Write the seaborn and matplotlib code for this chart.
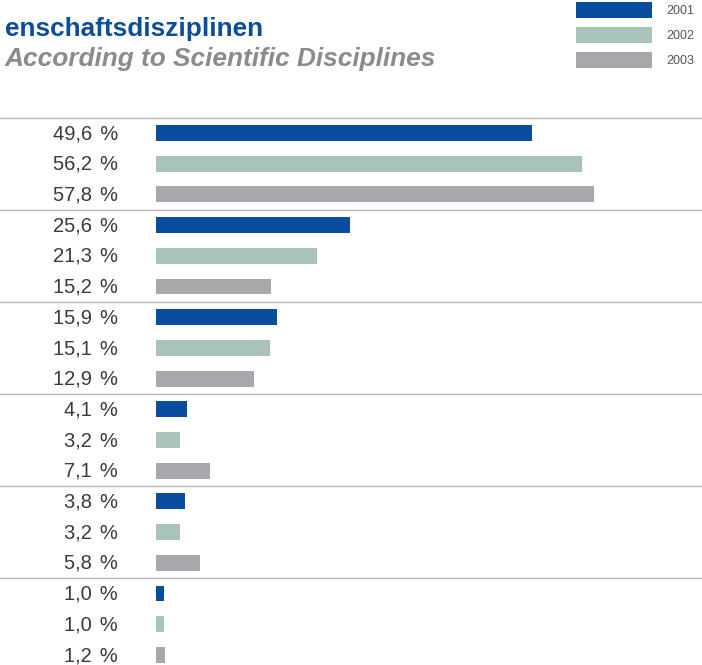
import matplotlib
matplotlib.use("Agg")
import matplotlib.pyplot as plt
from matplotlib.patches import Rectangle
import seaborn as sns
import pandas as pd

years = ["2001", "2002", "2003"]
values_2001 = [49.6, 25.6, 15.9, 4.1, 3.8, 1.0]
values_2002 = [56.2, 21.3, 15.1, 3.2, 3.2, 1.0]
values_2003 = [57.8, 15.2, 12.9, 7.1, 5.8, 1.2]
colors = ["#0a4d9f", "#a9c3b9", "#a8a8ac"]
title_de = "enschaftsdisziplinen"
title_en = "According to Scientific Disciplines"

sns.set_theme(style="white")
plt.rcParams["font.family"] = ["Liberation Sans", "DejaVu Sans"]

rows = []
for g in range(len(values_2001)):
    for k, vals in enumerate([values_2001, values_2002, values_2003]):
        rows.append({"pos": g * 3 + k, "value": vals[g], "year": years[k]})
df = pd.DataFrame(rows)

W, H = 702, 665
fig = plt.figure(figsize=(W / 100, H / 100), dpi=100)
ax = fig.add_axes([0, 0, 1, 1])

sns.barplot(data=df, x="value", y="pos", hue="year", orient="h",
            native_scale=True, dodge=False, width=0.52, palette=colors,
            errorbar=None, legend=False, ax=ax, saturation=1, linewidth=0)

px_per = 7.58
x0 = 156
row_h = 30.7
y0 = 133
ax.set_xlim(-x0 / px_per, (W - x0) / px_per)
ax.set_ylim(17 + (H - (y0 + 17 * row_h)) / row_h, -y0 / row_h)
ax.axis("off")

for _, r in df.iterrows():
    ax.text((118 - x0) / px_per, r["pos"] + 0.02,
            f"{r['value']:.1f}".replace(".", ",") + "\u2009\u2009%",
            ha="right", va="center", fontsize=14.5, color="#3a3a3a")

for g in range(len(values_2001)):
    ax.axhline(g * 3 - 0.5, color="#b4b4b4", lw=1.0, xmin=0, xmax=1)

fig.text(5 / W, 1 - 36 / H, title_de, fontsize=18.8, fontweight="bold",
         color="#0a4d9f", ha="left", va="baseline")
fig.text(5 / W, 1 - 66 / H, title_en, fontsize=18.9, fontweight="bold",
         fontstyle="italic", color="#8b8b8d", ha="left", va="baseline")

leg_y = [2, 27, 52]
for k, yr in enumerate(years):
    fig.patches.append(Rectangle((576 / W, 1 - (leg_y[k] + 16) / H), 76 / W, 16 / H,
                                 transform=fig.transFigure, color=colors[k], lw=0))
    fig.text(666 / W, 1 - (leg_y[k] + 9) / H, yr, fontsize=9, color="#555555",
             ha="left", va="center")

fig.savefig("out.png", dpi=100)
